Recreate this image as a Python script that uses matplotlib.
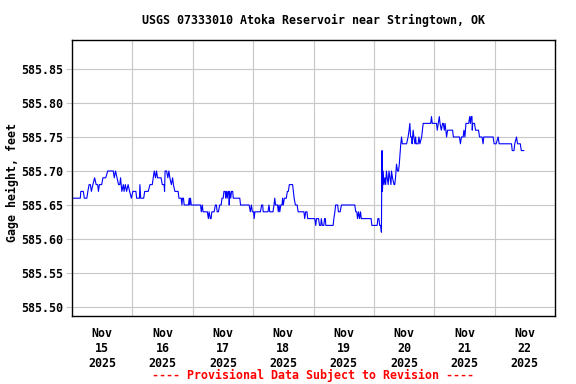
import numpy as np
import matplotlib
matplotlib.use("Agg")
import matplotlib.pyplot as plt
from matplotlib.ticker import FixedLocator, FormatStrFormatter

# hours after 2025-11-15 00:00 and gage height (feet)
hours = [
    0.0, 3.3, 3.5, 4.5, 4.9, 5.9, 6.3, 6.8, 7.3, 7.7, 8.3, 9.0, 9.6, 10.2, 10.5, 10.9,
    11.8, 12.3, 13.4, 14.2, 16.4, 16.8, 17.3, 17.9, 18.5, 19.0, 19.3, 19.8, 20.4, 20.7,
    21.2, 21.7, 22.3, 22.9, 23.6, 24.2, 25.4, 25.7, 26.8, 27.0, 27.3, 28.5, 28.9, 30.3,
    31.0, 31.9, 32.3, 32.7, 33.2, 33.6, 34.0, 35.4, 35.9, 36.6, 36.8, 37.0, 37.6, 38.1,
    38.5, 38.9, 39.5, 40.0, 40.3, 40.9, 42.2, 42.5, 43.4, 43.7, 43.9, 44.3, 44.6, 46.3,
    46.6, 46.8, 47.1, 47.4, 51.1, 51.4, 51.8, 52.1, 53.8, 54.2, 54.5, 55.0, 55.3, 55.6,
    56.5, 57.0, 57.4, 57.7, 58.2, 58.7, 59.3, 59.6, 60.1, 60.4, 60.9, 61.1, 61.4, 61.7,
    62.0, 62.3, 62.5, 62.7, 63.1, 63.4, 63.9, 64.1, 66.7, 67.0, 70.4, 70.9, 71.3, 71.7,
    72.2, 72.4, 72.7, 74.9, 75.4, 75.8, 76.0, 77.9, 78.3, 78.6, 79.9, 80.3, 80.6, 80.9,
    81.7, 82.0, 82.3, 82.6, 83.0, 83.5, 83.7, 84.0, 84.4, 84.8, 85.2, 85.6, 86.0, 86.4,
    87.7, 88.0, 88.3, 88.8, 89.5, 89.9, 92.2, 92.5, 92.9, 93.4, 93.7, 96.5, 96.9, 97.2,
    98.0, 98.4, 98.9, 99.1, 99.5, 100.1, 100.4, 100.7, 100.9, 103.8, 104.1, 104.5, 104.8,
    105.6, 105.9, 106.6, 107.1, 112.4, 112.8, 113.2, 113.5, 113.9, 114.3, 114.7, 115.0,
    118.9, 119.2, 121.3, 121.6, 122.0, 122.3, 122.7, 123.0, 123.1, 123.25, 123.4, 123.7,
    124.0, 124.4, 124.7, 125.0, 125.3, 125.7, 126.0, 126.4, 126.8, 127.0, 127.4, 128.0,
    128.3, 128.6, 129.0, 129.4, 129.8, 130.1, 130.3, 130.5, 130.7, 131.0, 131.3, 133.0,
    133.6, 134.0, 134.3, 134.6, 135.0, 135.2, 135.6, 135.9, 136.3, 136.6, 136.8, 137.6,
    137.9, 138.3, 139.0, 139.3, 139.6, 142.6, 142.9, 143.2, 144.9, 145.2, 145.6, 146.0,
    146.3, 146.8, 147.3, 147.6, 148.0, 148.3, 148.6, 148.9, 149.3, 151.3, 151.6, 154.0,
    154.4, 154.8, 155.5, 155.8, 156.2, 156.6, 157.7, 158.1, 158.4, 158.7, 159.0, 159.1,
    159.3, 160.0, 160.4, 161.6, 162.0, 163.0, 163.4, 163.7, 167.4, 167.8, 168.6, 169.4,
    169.8, 174.7, 175.0, 175.7, 176.0, 176.7, 177.1, 178.2, 178.6, 179.6,
]
gage = [
    585.66, 585.66, 585.67, 585.67, 585.66, 585.66, 585.67, 585.68, 585.68, 585.67, 585.68, 585.69, 585.68, 585.68, 585.67, 585.68,
    585.68, 585.69, 585.69, 585.70, 585.70, 585.69, 585.70, 585.69, 585.68, 585.68, 585.69, 585.67, 585.68, 585.67,
    585.68, 585.67, 585.68, 585.67, 585.66, 585.67, 585.67, 585.66, 585.66, 585.68, 585.66, 585.66, 585.67, 585.67,
    585.68, 585.68, 585.69, 585.70, 585.69, 585.70, 585.69, 585.69, 585.68, 585.68, 585.67, 585.70, 585.70, 585.69,
    585.70, 585.69, 585.68, 585.69, 585.68, 585.67, 585.67, 585.66, 585.66, 585.65, 585.66, 585.66, 585.65, 585.65,
    585.66, 585.65, 585.66, 585.65, 585.65, 585.64, 585.65, 585.64, 585.64, 585.63, 585.64, 585.63, 585.63, 585.64,
    585.64, 585.65, 585.65, 585.64, 585.64, 585.65, 585.65, 585.66, 585.66, 585.67, 585.67, 585.66, 585.67, 585.66,
    585.67, 585.67, 585.65, 585.67, 585.66, 585.67, 585.67, 585.66, 585.66, 585.65, 585.65, 585.64, 585.65, 585.64,
    585.64, 585.63, 585.64, 585.64, 585.65, 585.65, 585.64, 585.64, 585.65, 585.64, 585.64, 585.65, 585.66, 585.65,
    585.65, 585.64, 585.65, 585.64, 585.65, 585.65, 585.66, 585.65, 585.66, 585.66, 585.66, 585.67, 585.67, 585.68,
    585.68, 585.67, 585.66, 585.65, 585.65, 585.64, 585.64, 585.63, 585.64, 585.64, 585.63, 585.63, 585.62, 585.63,
    585.63, 585.62, 585.62, 585.63, 585.62, 585.62, 585.63, 585.63, 585.62, 585.62, 585.63, 585.64, 585.65,
    585.65, 585.64, 585.64, 585.65, 585.65, 585.64, 585.64, 585.63, 585.64, 585.63, 585.64, 585.63,
    585.63, 585.62, 585.62, 585.63, 585.63, 585.62, 585.62, 585.61, 585.67, 585.73, 585.67, 585.70,
    585.68, 585.69, 585.68, 585.70, 585.69, 585.68, 585.70, 585.69, 585.68, 585.70, 585.69, 585.68,
    585.68, 585.69, 585.71, 585.70, 585.70, 585.71, 585.72, 585.73, 585.74, 585.75, 585.74, 585.74,
    585.75, 585.76, 585.77, 585.75, 585.75, 585.74, 585.76, 585.75, 585.74, 585.75, 585.74, 585.74,
    585.75, 585.74, 585.75, 585.76, 585.77, 585.77, 585.78, 585.77, 585.77, 585.76, 585.77, 585.78,
    585.77, 585.76, 585.77, 585.77, 585.76, 585.77, 585.76, 585.75, 585.76, 585.76, 585.75, 585.75,
    585.74, 585.75, 585.75, 585.76, 585.75, 585.77, 585.77, 585.78, 585.77, 585.78, 585.78, 585.76,
    585.77, 585.77, 585.76, 585.76, 585.75, 585.75, 585.74, 585.75, 585.75, 585.74, 585.74, 585.75,
    585.74, 585.74, 585.73, 585.73, 585.74, 585.75, 585.74, 585.74, 585.73, 585.73,
]

month = "Nov"
days = ["15", "16", "17", "18", "19", "20", "21", "22"]
year = "2025"
yticks = [585.50, 585.55, 585.60, 585.65, 585.70, 585.75, 585.80, 585.85]

title = "USGS 07333010 Atoka Reservoir near Stringtown, OK"
ylabel = "Gage height, feet"
note = "---- Provisional Data Subject to Revision ----"

font = {"family": "DejaVu Sans Mono", "weight": "bold", "size": 8.4}

fig = plt.figure(figsize=(5.76, 3.84), dpi=100)
ax = fig.add_axes([72 / 576, 1 - 316 / 384, 483 / 576, 276 / 384])

ax.plot(hours, gage, color="#0000ff", linewidth=0.8)

ax.set_xlim(0, 24 * len(days))
ax.set_ylim(585.4868, 585.8926)

# labels at noon, grid lines at midnight
ax.xaxis.set_major_locator(FixedLocator([12 + 24 * i for i in range(len(days))]))
ax.xaxis.set_minor_locator(FixedLocator([24 * i for i in range(1, len(days))]))
ax.set_xticklabels([f"{month}\n{d}\n{year}" for d in days], fontdict=font)
ax.tick_params(axis="x", which="both", length=0, pad=8)
ax.grid(True, axis="x", which="minor", color="#c8c8c8", linewidth=0.8)

ax.yaxis.set_major_locator(FixedLocator(yticks))
ax.yaxis.set_major_formatter(FormatStrFormatter("%.2f"))
for lbl in ax.get_yticklabels():
    lbl.set_fontproperties(matplotlib.font_manager.FontProperties(**font))
ax.tick_params(axis="y", length=4, color="#c8c8c8", width=0.8, pad=2)
ax.grid(True, axis="y", which="major", color="#c8c8c8", linewidth=0.8)
ax.set_axisbelow(True)

for sp in ax.spines.values():
    sp.set_linewidth(1.0)
    sp.set_color("black")

fig.text(313.5 / 576, 1 - 20 / 384, title, ha="center", va="center", **font)
fig.text(12 / 576, 1 - 183 / 384, ylabel, ha="center", va="center", rotation=90, **font)
fig.text(313.5 / 576, 1 - 375 / 384, note, ha="center", va="center", color="#ff0000", **font)

fig.savefig("out.png", dpi=100)
